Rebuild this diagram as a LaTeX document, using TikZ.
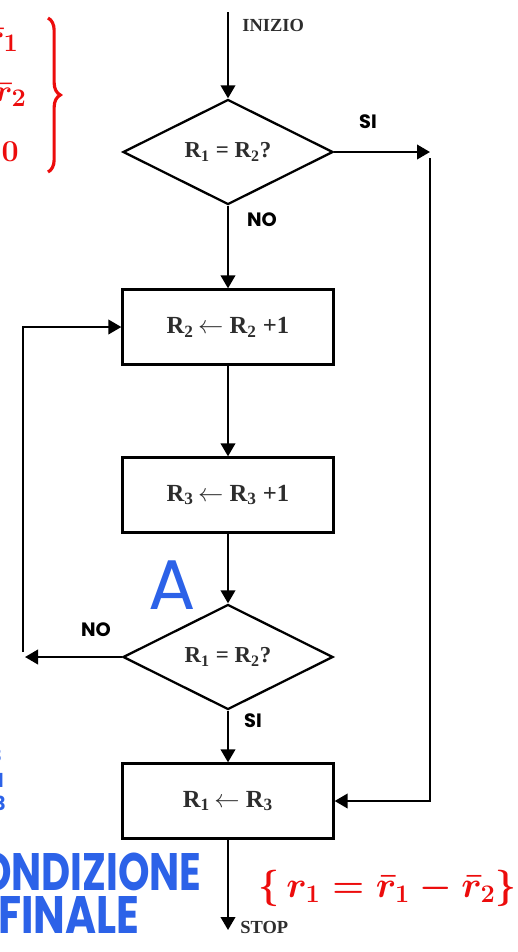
\documentclass[tikz,border=0pt]{standalone}
\usepackage{fontspec}
\setmainfont{Liberation Serif}
\newfontfamily\handfont{Poppins}
\usepackage{xcolor}
\definecolor{inkred}{RGB}{236,12,12}
\definecolor{inkblue}{RGB}{44,98,232}
\definecolor{printgrey}{RGB}{45,45,45}
\usetikzlibrary{positioning,arrows.meta,shapes.geometric,decorations.pathreplacing}
\tikzset{
  procbox/.style ={rectangle,draw=black,line width=1.3pt,minimum width=42.2mm,
                   minimum height=15mm,font=\bfseries\fontsize{14}{16}\selectfont,text=printgrey},
  testbox/.style ={diamond,draw=black,line width=1.3pt,minimum width=42mm,
                   minimum height=18mm,inner sep=0pt,font=\bfseries\fontsize{13}{15}\selectfont,text=printgrey},
  flow/.style    ={-{Triangle[length=2.6mm,width=2.9mm]},line width=1.3pt,draw=black},
  endlabel/.style={font=\bfseries\fontsize{10.5}{12}\selectfont,text=printgrey,inner sep=0pt},
  hand/.style    ={font=\handfont\bfseries\fontsize{11}{12}\selectfont,inner sep=0pt},
  bluehand/.style={font=\handfont\bfseries\fontsize{30}{30}\selectfont,text=inkblue,inner sep=0pt},
  redhand/.style ={font=\boldmath\fontsize{19}{21}\selectfont,text=inkred,inner sep=0pt},
}

\begin{document}
\begin{tikzpicture}[x=0.2mm,y=-0.2mm]
  \useasboundingbox (0,0) rectangle (518,952);
  \clip (0,0) rectangle (518,952);
  % main column
  \node[testbox] (test1) at (228,152) {R\textsubscript{1} = R\textsubscript{2}?};
  \node[procbox] (inc2)  at (228,327) {R\textsubscript{2}\,$\leftarrow$ R\textsubscript{2} +1};
  \node[procbox] (inc3)  at (228,495) {R\textsubscript{3}\,$\leftarrow$ R\textsubscript{3} +1};
  \node[testbox] (test2) at (228,657) {R\textsubscript{1} = R\textsubscript{2}?};
  \node[procbox] (copy)  at (228,801) {R\textsubscript{1}\,$\leftarrow$ R\textsubscript{3}};
  % start and stop
  \coordinate (start) at (228,12);
  \coordinate (stop)  at (228,930);
  \node[endlabel,anchor=west] (inizio)  at (242,25)  {INIZIO};
  \node[endlabel,anchor=west] (stoplbl) at (240,927) {STOP};
  % side branches
  \coordinate (yestip) at (430,152);
  \coordinate (yesrun) at (430,158);
  \coordinate (notip)  at (25,657);
  \coordinate (norun)  at (23,652);
  \draw[flow] (start) -- (test1.north);
  \draw[flow] (test1.south) -- (inc2.north);
  \draw[flow] (inc2.south) -- (inc3.north);
  \draw[flow] (inc3.south) -- (test2.north);
  \draw[flow] (test2.south) -- (copy.north);
  \draw[flow] (copy.south) -- (stop);
  \draw[flow] (test1.east) -- (yestip);
  \draw[flow] (yesrun) |- (copy.east);
  \draw[flow] (test2.west) -- (notip);
  \draw[flow] (norun) |- (inc2.west);
  % handwritten branch labels
  \node[hand] (si1) at (368,122) {SI};
  \node[hand] (no1) at (262,220) {NO};
  \node[hand] (no2) at (96,630)  {NO};
  \node[hand] (si2) at (253,721) {SI};
  \node[bluehand,font=\handfont\fontsize{40}{40}\selectfont] (mark) at (172,585) {A};
  % handwritten notes
  \node[redhand,anchor=east] (rbar1) at (19,40)  {$\bar r_1$};
  \node[redhand,anchor=east] (rbar2) at (27,95)  {$\bar r_2$};
  \node[redhand,anchor=east] (zero)  at (19,152) {$0$};
  \draw[inkred,line width=1.8pt,decorate,decoration={brace,amplitude=7pt}]
    (48,18) -- (48,172);
  \node[text=inkblue,font=\handfont\bfseries\fontsize{11}{12}\selectfont,anchor=east] (frag1) at (8,755) {3};
  \node[text=inkblue,font=\handfont\bfseries\fontsize{11}{12}\selectfont,anchor=east] (frag2) at (10,780) {1};
  \node[text=inkblue,font=\handfont\bfseries\fontsize{11}{12}\selectfont,anchor=east] (frag3) at (12,803) {3};
  \node[bluehand,anchor=east] (cond) at (202,872) {\scalebox{0.76}[1]{CONDIZIONE}};
  \node[bluehand,anchor=east] (fin)  at (140,915) {\scalebox{0.8}[1]{FINALE}};
  \node[redhand,font=\boldmath\fontsize{21}{23}\selectfont,anchor=west] (final) at (258,888) {$\{\,r_1 = \bar r_1 - \bar r_2\}$};
\end{tikzpicture}
\end{document}
